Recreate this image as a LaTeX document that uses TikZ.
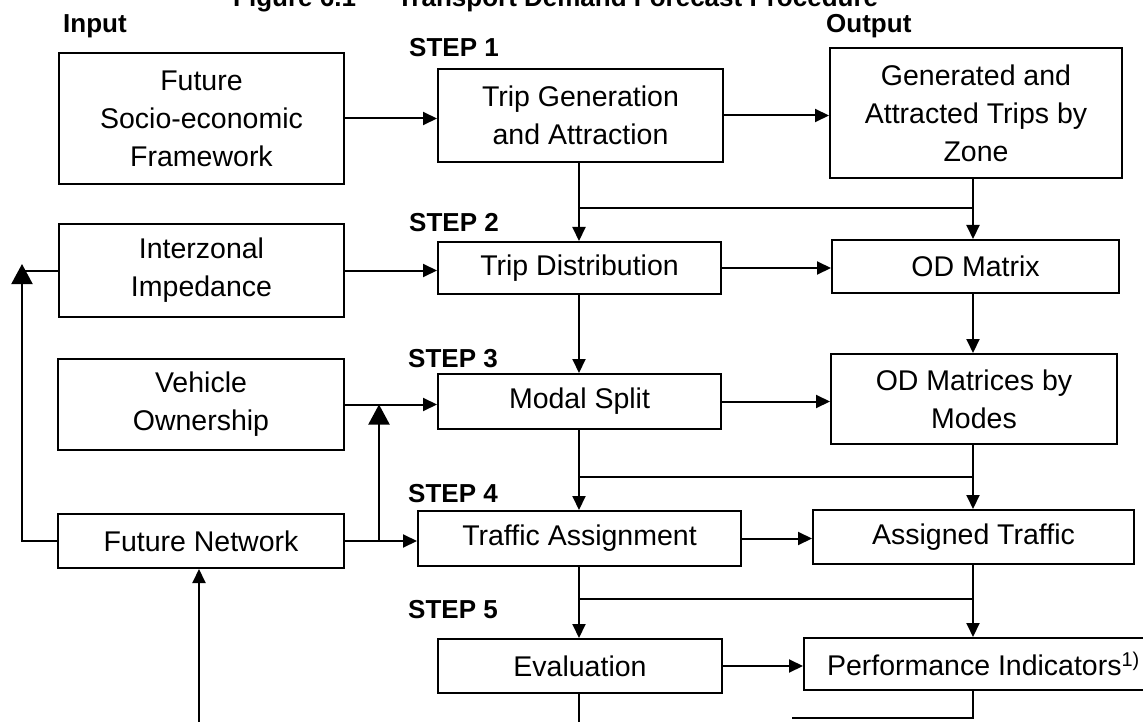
\documentclass[tikz,border=0pt]{standalone}
\usepackage{fontspec}
\setmainfont{Liberation Sans}
\usetikzlibrary{arrows.meta}
\tikzset{
  box/.style={draw, line width=2pt, rectangle, anchor=north west, inner sep=0pt, align=center,
    font=\fontsize{28.5pt}{38pt}\selectfont},
  lab/.style={anchor=base west, inner sep=0pt, font=\bfseries\fontsize{26pt}{30pt}\selectfont},
  conn/.style={line width=2pt},
  arr/.style={line width=2pt, -{Triangle[length=14pt,width=13pt]}},
  bigarr/.style={line width=2pt, -{Triangle[length=20pt,width=21pt]}}
}
\begin{document}
\begin{tikzpicture}[x=1pt,y=-1pt]
\useasboundingbox (0,0) rectangle (1143,722);
% title and labels
\node[lab] (title) at (233,7) {Figure 6.1\hspace{41pt}Transport Demand Forecast Procedure};
\node[lab] (inp) at (63,33) {Input};
\node[lab] (outp) at (826,33) {Output};
\node[lab] (s1) at (409,57) {STEP 1};
\node[lab] (s2) at (409,232) {STEP 2};
\node[lab] (s3) at (408,367) {STEP 3};
\node[lab] (s4) at (408,502) {STEP 4};
\node[lab] (s5) at (408,618) {STEP 5};
% input column
\node[box, minimum width=285, minimum height=131] (FSE) at (58,52) {Future\\Socio-economic\\Framework};
\node[box, minimum width=285, minimum height=93] (II) at (58,223) {Interzonal\\Impedance};
\node[box, minimum width=286, minimum height=91] (VO) at (57,358) {Vehicle\\Ownership};
\node[box, minimum width=286, minimum height=54] (FN) at (57,513) {Future Network};
% step column
\node[box, minimum width=285, minimum height=93] (TG) at (437,68) {Trip Generation\\and Attraction};
\node[box, minimum width=283, minimum height=52] (TD) at (437,241) {Trip Distribution};
\node[box, minimum width=283, minimum height=55] (MS) at (437,373) {Modal Split};
\node[box, minimum width=323, minimum height=55] (TA) at (417,510) {Traffic Assignment};
\node[box, minimum width=284, minimum height=54] (EV) at (437,638) {Evaluation};
% output column
\node[box, minimum width=292, minimum height=130] (Gen) at (829,47) {Generated and\\Attracted Trips by\\Zone};
\node[box, minimum width=287, minimum height=53] (ODM) at (831,239) {OD Matrix};
\node[box, minimum width=286, minimum height=90] (ODMM) at (830,353) {OD Matrices by\\Modes};
\node[box, minimum width=321, minimum height=54] (AT) at (812,509) {Assigned Traffic};
\node[box, minimum height=52, align=left] (PI) at (803,637) {\hspace*{23pt}Performance Indicators\textsuperscript{1)}\hspace*{16pt}};
% helper coordinates
\coordinate (lx) at (579,0);
\coordinate (rx) at (973,0);
\coordinate (jx) at (379,0);
\coordinate (m1) at (0,208);
\coordinate (m2) at (0,477);
\coordinate (m3) at (0,599);
\coordinate (bot) at (0,730);
\coordinate (lc) at (22,264);
\coordinate (fnb) at (199,730);
\coordinate (pl) at (792,718);
% horizontal arrows
\draw[arr] (FSE.east) -- (FSE.east -| TG.west);
\draw[arr] (TG.east) -- (TG.east -| Gen.west);
\draw[arr] (II.east) -- (II.east -| TD.west);
\draw[arr] (TD.east) -- (TD.east -| ODM.west);
\draw[arr] (VO.east) -- (VO.east -| MS.west);
\draw[arr] (MS.east) -- (MS.east -| ODMM.west);
\draw[arr] (FN.east) -- (FN.east -| TA.west);
\draw[arr] (TA.east) -- (TA.east -| AT.west);
\draw[arr] (EV.east) -- (EV.east -| PI.west);
% vertical flows
\draw[arr] (lx |- TG.south) -- (lx |- TD.north);
\draw[arr] (rx |- Gen.south) -- (rx |- ODM.north);
\draw[conn] (lx |- m1) -- (rx |- m1);
\draw[arr] (lx |- TD.south) -- (lx |- MS.north);
\draw[arr] (rx |- ODM.south) -- (rx |- ODMM.north);
\draw[arr] (lx |- MS.south) -- (lx |- TA.north);
\draw[arr] (rx |- ODMM.south) -- (rx |- AT.north);
\draw[conn] (lx |- m2) -- (rx |- m2);
\draw[arr] (lx |- TA.south) -- (lx |- EV.north);
\draw[arr] (rx |- AT.south) -- (rx |- PI.north);
\draw[conn] (lx |- m3) -- (rx |- m3);
\draw[conn] (lx |- EV.south) -- (lx |- bot);
\draw[conn] (rx |- PI.south) |- (pl);
% feedback
\draw[bigarr] (FN.west) -| (lc);
\draw[conn] (II.west) -- (II.west -| lc);
\draw[bigarr] (jx |- FN.east) -- (jx |- VO.east);
\draw[arr] (fnb) -- (fnb |- FN.south);
\end{tikzpicture}
\end{document}
